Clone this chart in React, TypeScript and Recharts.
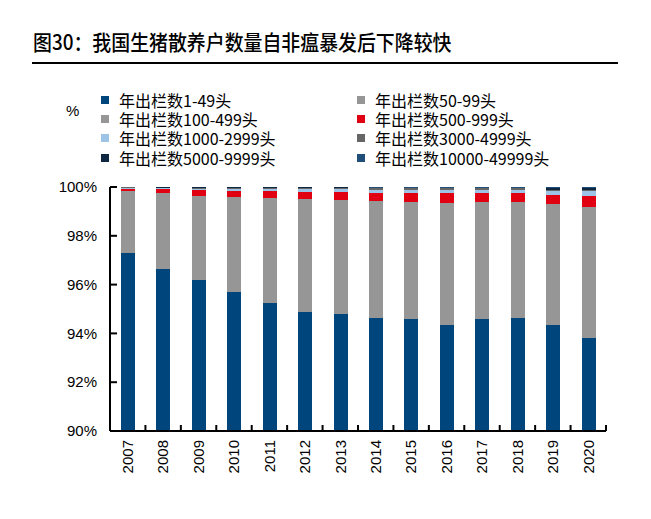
import React from "react";
import { BarChart, Bar, XAxis, YAxis } from "recharts";

const years = ["2007", "2008", "2009", "2010", "2011", "2012", "2013", "2014", "2015", "2016", "2017", "2018", "2019", "2020"];

// 年出栏数 shares (%)
const s1_49 = [97.3, 96.64, 96.19, 95.7, 95.25, 94.88, 94.8, 94.63, 94.59, 94.34, 94.59, 94.63, 94.34, 93.81];
const s50_99 = [1.9, 2.25, 2.45, 2.7, 2.9, 3.1, 3.05, 3.1, 3.05, 3.2, 3.05, 3.0, 3.1, 3.35];
const s100_499 = [0.62, 0.85, 1.0, 1.2, 1.4, 1.53, 1.6, 1.71, 1.75, 1.82, 1.76, 1.74, 1.85, 2.02];
const s500_999 = [0.11, 0.16, 0.22, 0.25, 0.27, 0.29, 0.34, 0.31, 0.36, 0.38, 0.35, 0.38, 0.39, 0.46];
const s1000_2999 = [0.03, 0.05, 0.07, 0.08, 0.1, 0.11, 0.12, 0.14, 0.14, 0.15, 0.14, 0.14, 0.14, 0.2];
const s3000_4999 = [0.02, 0.02, 0.03, 0.03, 0.04, 0.04, 0.04, 0.05, 0.05, 0.05, 0.05, 0.05, 0.06, 0.05];
const s5000_9999 = [0.01, 0.02, 0.02, 0.02, 0.02, 0.03, 0.03, 0.03, 0.03, 0.03, 0.03, 0.03, 0.07, 0.07];
const s10000_49999 = [0.01, 0.01, 0.02, 0.02, 0.02, 0.02, 0.02, 0.03, 0.03, 0.03, 0.03, 0.03, 0.05, 0.04];

const yTicks = [90, 92, 94, 96, 98, 100];

const series = [
  { key: "a", name: "年出栏数1-49头", values: s1_49, color: "#00457c" },
  { key: "b", name: "年出栏数50-99头", values: s50_99, color: "#969696" },
  { key: "c", name: "年出栏数100-499头", values: s100_499, color: "#969696" },
  { key: "d", name: "年出栏数500-999头", values: s500_999, color: "#e00012" },
  { key: "e", name: "年出栏数1000-2999头", values: s1000_2999, color: "#9dc3e6" },
  { key: "f", name: "年出栏数3000-4999头", values: s3000_4999, color: "#666666" },
  { key: "g", name: "年出栏数5000-9999头", values: s5000_9999, color: "#0e2841" },
  { key: "h", name: "年出栏数10000-49999头", values: s10000_49999, color: "#1f4e79" },
];

const data = years.map((year, i) => {
  const row: any = { year };
  series.forEach((s) => (row[s.key] = s.values[i]));
  return row;
});

const numFont = "'Liberation Sans', Arial, sans-serif";
const cjkFont = "'Noto Sans CJK SC', 'Noto Sans', sans-serif";

const PLOT_LEFT = 110;
const PLOT_RIGHT = 606;
const BAND = (PLOT_RIGHT - PLOT_LEFT) / years.length;

const XTick = (props: any) => {
  const { x, y, payload, index } = props;
  const left = x - BAND / 2;
  return (
    <g>
      <line x1={left} x2={left} y1={y} y2={y - 6} stroke="#000" strokeWidth={2} />
      {index === years.length - 1 && (
        <line x1={x + BAND / 2} x2={x + BAND / 2} y1={y} y2={y - 6} stroke="#000" strokeWidth={2} />
      )}
      <text
        x={x}
        y={y + 9}
        dy="0.35em"
        textAnchor="end"
        transform={`rotate(-90, ${x}, ${y + 9})`}
        fontFamily={numFont}
        fontSize={15}
        fill="#000"
      >
        {payload.value}
      </text>
    </g>
  );
};

const YTick = (props: any) => {
  const { x, y, payload } = props;
  return (
    <g>
      <line x1={x} x2={x + 7} y1={y} y2={y} stroke="#000" strokeWidth={2} />
      <text x={x - 13} y={y} dy="0.35em" textAnchor="end" fontFamily={numFont} fontSize={15} fill="#000">
        {payload.value}%
      </text>
    </g>
  );
};

export default function App() {
  return (
    <div style={{ position: "absolute", left: 0, top: 0, width: 651, height: 519, background: "#fff" }}>
      <div
        style={{
          position: "absolute",
          left: 33,
          top: 28,
          fontFamily: cjkFont,
          fontSize: 21,
          fontWeight: 500,
          color: "#000",
          whiteSpace: "nowrap",
          lineHeight: "26px",
          transform: "scaleX(0.9)",
          transformOrigin: "left center",
        }}
      >
        图30：我国生猪散养户数量自非瘟暴发后下降较快
      </div>
      <div style={{ position: "absolute", left: 32, top: 62, width: 586, height: 2, background: "#000" }} />
      <div style={{ position: "absolute", left: 66, top: 102, fontFamily: numFont, fontSize: 15, lineHeight: "18px" }}>%</div>
      {series.map((s, i) => {
        const col = i % 2;
        const row = Math.floor(i / 2);
        return (
          <div
            key={s.key}
            style={{
              position: "absolute",
              left: col === 0 ? 101 : 357,
              top: 92 + row * 19.2,
              height: 16,
              display: "flex",
              alignItems: "center",
              fontFamily: cjkFont,
              fontSize: 16,
              lineHeight: "16px",
              whiteSpace: "nowrap",
            }}
          >
            <span style={{ display: "inline-block", width: 8, height: 8, background: s.color, marginRight: 10 }} />
            <span style={{ lineHeight: "16px" }}>{s.name}</span>
          </div>
        );
      })}
      <div style={{ position: "absolute", left: 0, top: 0 }}>
        <BarChart
          width={651}
          height={519}
          data={data}
          margin={{ top: 187, right: 651 - PLOT_RIGHT, left: 0, bottom: 0 }}
          barSize={14}
        >
          <XAxis
            dataKey="year"
            height={88}
            axisLine={{ stroke: "#000", strokeWidth: 2 }}
            tickLine={false}
            tickSize={0}
            tickMargin={0}
            interval={0}
            tick={<XTick />}
          />
          <YAxis
            width={PLOT_LEFT}
            domain={[90, 100]}
            ticks={yTicks}
            allowDataOverflow
            axisLine={{ stroke: "#000", strokeWidth: 2 }}
            tickLine={false}
            tickSize={0}
            tickMargin={0}
            interval={0}
            tick={<YTick />}
          />
          {series.map((s) => (
            <Bar
              key={s.key}
              dataKey={s.key}
              name={s.name}
              stackId="1"
              fill={s.color}
              shapeRendering="crispEdges"
              isAnimationActive={false}
            />
          ))}
        </BarChart>
      </div>
    </div>
  );
}
